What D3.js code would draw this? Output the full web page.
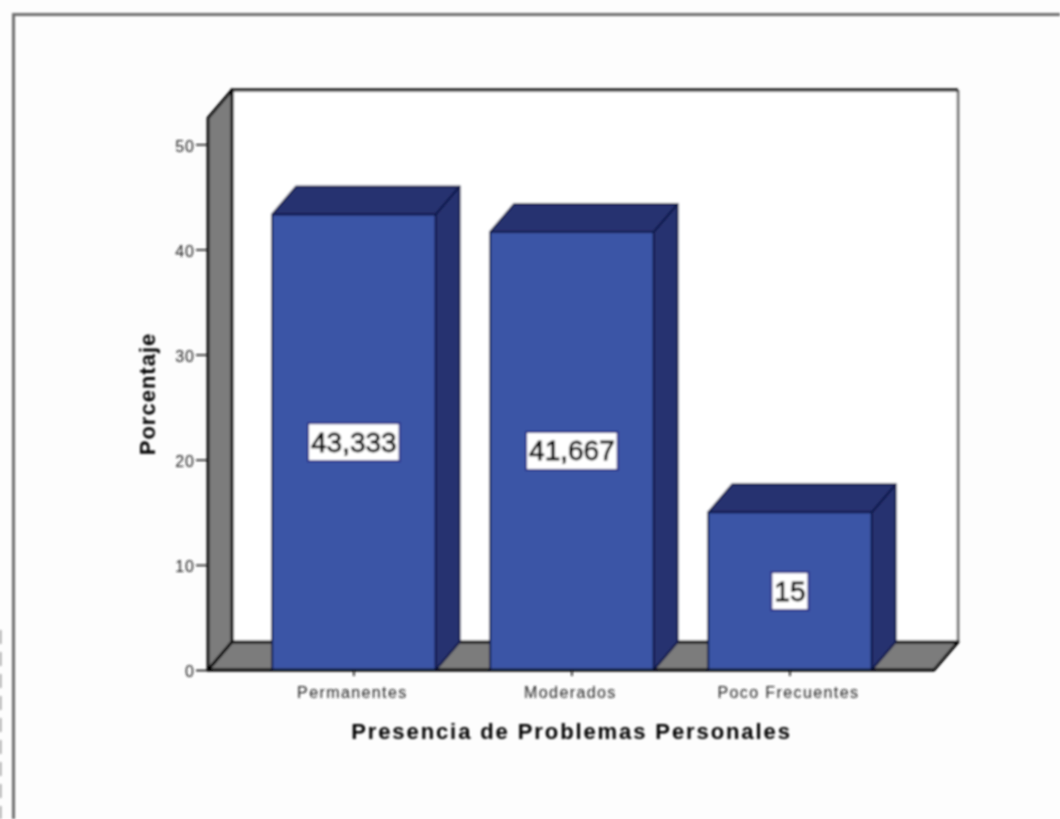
<!DOCTYPE html>
<html><head><meta charset="utf-8">
<script src="https://cdn.jsdelivr.net/npm/d3@7/dist/d3.min.js"></script>
<style>html,body{margin:0;padding:0;background:#fdfdfd;overflow:hidden}svg{display:block}text{font-family:"Liberation Sans",Arial,sans-serif}</style>
</head><body><script>
const categories = ["Permanentes","Moderados","Poco Frecuentes"];
const values = [43.333,41.667,15];
const valueLabels = ["43,333","41,667","15"];
const yTicks = [0,10,20,30,40,50];
const xTitle = "Presencia de Problemas Personales";
const yTitle = "Porcentaje";

const W=1060,H=819,dx=24,dy=28,x0=208,x1=934,yb=670,yt=118;
const svg=d3.select("body").append("svg").attr("width",W).attr("height",H);
const defs=svg.append("defs");
defs.append("filter").attr("id","soft").attr("x","-5%").attr("y","-5%").attr("width","110%").attr("height","110%")
  .append("feGaussianBlur").attr("stdDeviation",0.8);
const root=svg.append("g").attr("filter","url(#soft)");

const y=d3.scaleLinear().domain([0,52.5]).range([yb,yt]);
const x=d3.scaleBand().domain(categories).range([x0,x1]).paddingInner(0.25).paddingOuter(0.29).align(0.507);

// page frame
root.append("path").attr("d",`M13.5,${H}V14.5H${W}`).attr("fill","none").attr("stroke","#6e6e6e").attr("stroke-width",3);
root.append("path").attr("d",`M0.5,630V${H}`).attr("fill","none").attr("stroke","#888").attr("stroke-width",1.5).attr("stroke-dasharray","14 8");

// walls
const poly=(pts,fill,stroke,sw)=>root.append("polygon").attr("points",pts.map(p=>p.join(",")).join(" ")).attr("fill",fill).attr("stroke",stroke||"none").attr("stroke-width",sw||0).attr("stroke-linejoin","round");
poly([[x0+dx,yt-dy],[x1+dx,yt-dy],[x1+dx,yb-dy],[x0+dx,yb-dy]],"#ffffff");
root.append("path").attr("d",`M${x1+dx},${yt-dy}V${yb-dy}`).attr("fill","none").attr("stroke","#666").attr("stroke-width",2.6);
root.append("path").attr("d",`M${x0+dx},${yb-dy}V${yt-dy}H${x1+dx}`).attr("fill","none").attr("stroke","#000").attr("stroke-width",2.8);
poly([[x0,yt],[x0+dx,yt-dy],[x0+dx,yb-dy],[x0,yb]],"#7b7b7b","#000",2.8);
poly([[x0,yb],[x0+dx,yb-dy],[x1+dx,yb-dy],[x1,yb]],"#7b7b7b","#000",2.8);

// bars
const bars=root.selectAll("g.bar").data(categories.map((c,i)=>({c,v:values[i],l:valueLabels[i]}))).join("g").attr("class","bar");
bars.each(function(d){
  const g=d3.select(this),l=x(d.c),r=l+x.bandwidth(),t=y(d.v);
  const p=(pts,f)=>g.append("polygon").attr("points",pts.map(q=>q.join(",")).join(" ")).attr("fill",f).attr("stroke","#10194a").attr("stroke-width",2).attr("stroke-linejoin","round");
  p([[r,yb],[r+dx,yb-dy],[r+dx,t-dy],[r,t]],"#25326f");
  p([[l,t],[l+dx,t-dy],[r+dx,t-dy],[r,t]],"#25326f");
  p([[l,t],[r,t],[r,yb],[l,yb]],"#3a55a6");
});
root.append("line").attr("x1",x0).attr("x2",x1).attr("y1",yb).attr("y2",yb).attr("stroke","#000").attr("stroke-width",2.6);

// value labels
bars.each(function(d){
  const g=d3.select(this),cx=x(d.c)+x.bandwidth()/2,cy=y(d.v/2);
  const t=g.append("text").attr("x",cx).attr("y",cy).attr("text-anchor","middle").attr("dominant-baseline","central").attr("font-size",28).attr("fill","#000").attr("stroke","#000").attr("stroke-width",0.8).text(d.l);
  const b=t.node().getBBox();
  g.insert("rect","text").attr("x",cx-b.width/2-3).attr("y",cy-19).attr("width",b.width+6).attr("height",38).attr("fill","#fff").attr("stroke","#2b2f86").attr("stroke-width",2);
});

// axes
const yAxis=root.append("g").attr("transform",`translate(${x0},0)`).call(d3.axisLeft(y).tickValues(yTicks).tickSize(12).tickPadding(1));
yAxis.select(".domain").remove();
yAxis.selectAll("line").attr("stroke","#111").attr("stroke-width",1.6);
yAxis.selectAll("text").attr("font-size",16).attr("letter-spacing",1).attr("fill","#222").attr("dy","0.42em").attr("font-family","Liberation Sans");
const xAxis=root.append("g").attr("transform",`translate(0,${yb})`).call(d3.axisBottom(x).tickSize(6).tickPadding(11));
xAxis.select(".domain").remove();
xAxis.selectAll("line").attr("stroke","#111").attr("stroke-width",1.6);
xAxis.selectAll("text").attr("font-size",16).attr("letter-spacing",1.4).attr("dx",-1.5).attr("fill","#222").attr("font-family","Liberation Sans");

root.append("text").attr("x",571.5).attr("y",739).attr("text-anchor","middle").attr("font-size",22).attr("font-weight","bold").attr("letter-spacing",1.9).attr("fill","#000").text(xTitle);
root.append("text").attr("transform","translate(155,394) rotate(-90)").attr("text-anchor","middle").attr("font-size",22).attr("font-weight","bold").attr("letter-spacing",1).attr("fill","#000").text(yTitle);
</script></body></html>
